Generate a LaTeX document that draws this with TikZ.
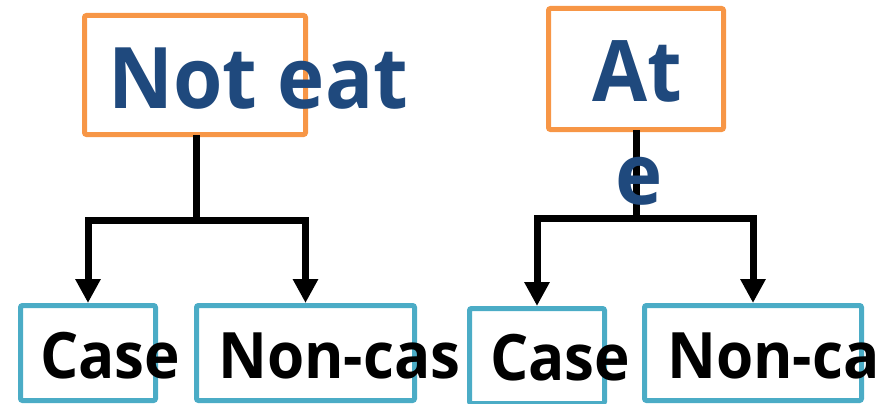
\documentclass[tikz,border=0pt]{standalone}
\usepackage{fontspec}
\setmainfont{Open Sans}[FakeStretch=0.94]
\usetikzlibrary{arrows.meta}
\definecolor{boxorange}{HTML}{F79646}
\definecolor{boxteal}{HTML}{4BACC6}
\definecolor{labelnavy}{HTML}{1F497D}
\tikzset{
  topbox/.style={draw=boxorange, line width=5pt, rounded corners=2pt, inner sep=0pt, rectangle},
  leafbox/.style={draw=boxteal, line width=5pt, rounded corners=2pt, inner sep=0pt, rectangle},
  toplabel/.style={anchor=base west, inner sep=0pt, text=labelnavy, font=\fontsize{85}{102}\selectfont\bfseries},
  leaflabel/.style={anchor=base west, inner sep=0pt, text=black, font=\fontsize{64}{70}\selectfont\bfseries},
  conn/.style={line width=7pt, line join=miter, draw=black},
  arr/.style={conn, -{Triangle[length=24pt,width=24pt]}},
}
\begin{document}
\begin{tikzpicture}[x=1pt,y=-1pt]
\useasboundingbox (0,0) rectangle (884,404);

% left tree
\node[topbox, minimum width=221pt, minimum height=119pt] (ne) at (195,75) {};
\node[leafbox, minimum width=135pt, minimum height=95pt] (c1) at (88,353) {};
\node[leafbox, minimum width=218pt, minimum height=95pt] (n1) at (305.5,353) {};
\coordinate (j1) at (196,220);
\coordinate (s1) at (196,135);

% right tree
\node[topbox, minimum width=175pt, minimum height=121pt] (at) at (636,69) {};
\node[leafbox, minimum width=135pt, minimum height=95pt] (c2) at (537,356) {};
\node[leafbox, minimum width=217pt, minimum height=95pt] (n2) at (753,353) {};
\coordinate (j2) at (636,218);
\coordinate (s2) at (636,130);

% connectors
\draw[conn] (s1) -- (j1);
\draw[arr] (j1) -| (c1.north);
\draw[arr] (j1) -| (n1.north);
\draw[conn] (s2) -- (j2);
\draw[arr] (j2) -| (c2.north);
\draw[arr] (j2) -| (n2.north);

% labels
\node[toplabel] (tne) at (108,108) {Not eat};
\node[toplabel] (tat) at (592,102) {At};
\node[toplabel] (te) at (615,204) {e};
\node[leaflabel] (tc1) at (40,378) {Case};
\node[leaflabel] (tn1) at (218,378) {Non-cas};
\node[leaflabel] (tc2) at (490,380) {Case};
\node[leaflabel] (tn2) at (667,378) {Non-ca};
\end{tikzpicture}
\end{document}
